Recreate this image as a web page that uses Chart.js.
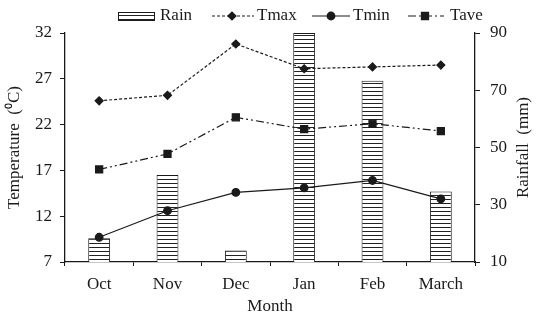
<!DOCTYPE html>
<html><head><meta charset="utf-8">
<script src="https://cdn.jsdelivr.net/npm/chart.js@4.4.0/dist/chart.umd.min.js"></script>
<style>html,body{margin:0;padding:0;background:#fff}#wrap{width:536px;height:320px}</style>
</head><body><div id="wrap"><canvas id="c" width="536" height="320"></canvas></div>
<script>
const months = ['Oct', 'Nov', 'Dec', 'Jan', 'Feb', 'March'];
const rain = [18.3, 40.4, 14.0, 90.0, 73.3, 34.6];
const tmax = [24.6, 25.2, 30.8, 28.1, 28.3, 28.5];
const tmin = [9.7, 12.6, 14.6, 15.1, 15.9, 13.9];
const tave = [17.1, 18.8, 22.8, 21.5, 22.1, 21.3];
const tempTicks = [7, 12, 17, 22, 27, 32];
const rainTicks = [10, 30, 50, 70, 90];
const rightTitle = 'Rainfall  (mm)';

const INK = '#1a1a1a';
const FONT = {family: "'Liberation Serif', 'Times New Roman', serif", size: 17};

function stripePattern() {
  const c = document.createElement('canvas');
  c.width = 8; c.height = 4;
  const g = c.getContext('2d');
  g.fillStyle = '#fff'; g.fillRect(0, 0, 8, 4);
  g.fillStyle = '#222'; g.fillRect(0, 3, 8, 1);
  return g.createPattern(c, 'repeat');
}
const pat = stripePattern();

const legendPlugin = {
  id: 'customLegend',
  afterDraw(chart) {
    const ctx = chart.ctx;
    ctx.save();
    const y = 16;
    ctx.fillStyle = pat;
    ctx.fillRect(118, 12, 37, 9);
    ctx.strokeStyle = INK; ctx.lineWidth = 1;
    ctx.strokeRect(118.5, 12.5, 36, 8);
    ctx.fillStyle = INK;
    ctx.font = "17px 'Liberation Serif'";
    ctx.textBaseline = 'middle';
    ctx.fillText('Rain', 160, y);
    ctx.lineWidth = 1.2;
    ctx.setLineDash([3, 2]);
    ctx.beginPath(); ctx.moveTo(212, y); ctx.lineTo(254, y); ctx.stroke();
    ctx.setLineDash([]);
    Chart.helpers.drawPoint(ctx, {pointStyle: 'rectRot', radius: 4, borderWidth: 1}, 232, y);
    ctx.fill();
    ctx.fillText('Tmax', 257, y);
    ctx.beginPath(); ctx.moveTo(312, y); ctx.lineTo(350, y); ctx.stroke();
    Chart.helpers.drawPoint(ctx, {pointStyle: 'circle', radius: 3.8, borderWidth: 1}, 331, y);
    ctx.fill();
    ctx.fillText('Tmin', 353, y);
    ctx.setLineDash([8, 3, 2, 3]);
    ctx.beginPath(); ctx.moveTo(408, y); ctx.lineTo(444, y); ctx.stroke();
    ctx.setLineDash([]);
    Chart.helpers.drawPoint(ctx, {pointStyle: 'rect', radius: 5, borderWidth: 1}, 425, y);
    ctx.fill();
    ctx.fillText('Tave', 450, y);
    // right axis title, reading bottom-to-top
    const yR = chart.scales.yR;
    ctx.translate(524, (yR.top + yR.bottom) / 2);
    ctx.rotate(-Math.PI / 2);
    ctx.textAlign = 'center';
    ctx.fillText(rightTitle, 0, 0);
    ctx.restore();
  }
};

const gridOpts = (len) => ({drawOnChartArea: false, drawTicks: true, tickLength: len, color: INK, lineWidth: 1});

new Chart(document.getElementById('c'), {
  data: {
    labels: months,
    datasets: [
      {type: 'line', label: 'Tmax', data: tmax, yAxisID: 'yT', order: 1,
       borderColor: INK, borderWidth: 1.2, borderDash: [3, 2], pointStyle: 'rectRot',
       pointRadius: 4, pointBackgroundColor: INK, pointBorderColor: INK, tension: 0},
      {type: 'line', label: 'Tmin', data: tmin, yAxisID: 'yT', order: 2,
       borderColor: INK, borderWidth: 1.2, pointStyle: 'circle',
       pointRadius: 3.8, pointBackgroundColor: INK, pointBorderColor: INK, tension: 0},
      {type: 'line', label: 'Tave', data: tave, yAxisID: 'yT', order: 3,
       borderColor: INK, borderWidth: 1.2, borderDash: [8, 3, 2, 3, 2, 3], pointStyle: 'rect',
       pointRadius: 5, pointBackgroundColor: INK, pointBorderColor: INK, tension: 0},
      {type: 'bar', label: 'Rain', data: rain, yAxisID: 'yR', order: 10,
       backgroundColor: pat, borderColor: INK, borderWidth: 1,
       barPercentage: 0.32, categoryPercentage: 1}
    ]
  },
  options: {
    responsive: false,
    animation: false,
    devicePixelRatio: 1,
    layout: {padding: {top: 33, left: 0, right: 0, bottom: 0}},
    plugins: {legend: {display: false}, tooltip: {enabled: false}},
    scales: {
      x: {
        type: 'category', offset: true,
        grid: Object.assign(gridOpts(4), {offset: true}),
        border: {display: true, color: INK, width: 1.3},
        ticks: {font: FONT, color: INK, padding: 8},
        title: {display: true, text: 'Month', font: FONT, color: INK, padding: {top: 0, bottom: 3}},
        afterFit: s => { s.height = 58; }
      },
      yT: {
        type: 'linear', position: 'left', min: 7, max: 32,
        grid: gridOpts(5),
        border: {display: true, color: INK, width: 1.3},
        ticks: {font: FONT, color: INK, padding: 8},
        afterBuildTicks: s => { s.ticks = tempTicks.map(v => ({value: v})); },
        title: {display: true, text: 'Temperature  (⁰C)', font: FONT, color: INK, padding: {top: 4, bottom: 0}},
        afterFit: s => { s.width = 65; }
      },
      yR: {
        type: 'linear', position: 'right', min: 10, max: 90,
        grid: gridOpts(5),
        border: {display: true, color: INK, width: 1.3},
        ticks: {font: FONT, color: INK, padding: 10},
        afterBuildTicks: s => { s.ticks = rainTicks.map(v => ({value: v})); },
        title: {display: false},
        afterFit: s => { s.width = 61; }
      }
    }
  },
  plugins: [legendPlugin]
});
</script>
</body></html>
